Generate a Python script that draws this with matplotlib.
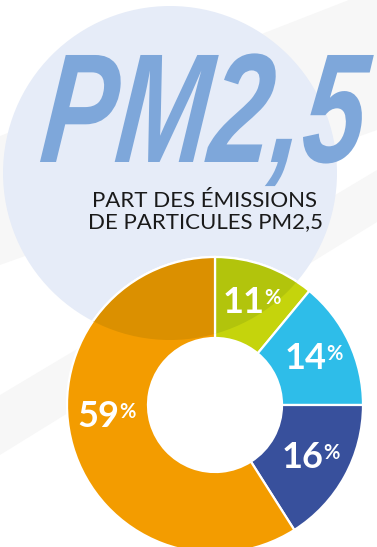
import numpy as np
import matplotlib
matplotlib.use("Agg")
import matplotlib.pyplot as plt
from matplotlib.patches import Circle, Polygon
from matplotlib.colors import to_rgb
from matplotlib.transforms import Affine2D
from matplotlib import patheffects

# share of PM2.5 emissions by sector, clockwise from the top
shares = [11, 14, 16, 59]
share_labels = ["11", "14", "16", "59"]
slice_colors = ["#C5D40C", "#2EBDE9", "#38509C", "#F39C00"]

title = "PM2,5"
subtitle = ["PART DES ÉMISSIONS", "DE PARTICULES PM2,5"]

W, H = 377, 547
disc_color = "#E6ECF8"


def multiply(c, over):
    a, b = to_rgb(c), to_rgb(over)
    return tuple(x * y for x, y in zip(a, b))


class Squeeze(patheffects.AbstractPathEffect):
    """Draw text narrower and more slanted than the font itself."""

    def __init__(self, sx=1.0, skew=0.0):
        super().__init__()
        self.sx = sx
        self.skew = skew

    def draw_path(self, renderer, gc, tpath, affine, rgbFace=None):
        t = Affine2D().skew_deg(self.skew, 0).scale(self.sx, 1) + affine
        renderer.draw_path(gc, tpath, t, rgbFace)


fig = plt.figure(figsize=(W / 100, H / 100), dpi=100)
ax = fig.add_axes([0, 0, 1, 1])

# faint diagonal bands in the background
bands = [
    [(0, H - 136), (W, H + 11), (W, H - 130), (0, H - 265)],
    [(0, H - 395), (W, H - 170), (W, H - 222), (0, H - 455)],
]
for b in bands:
    ax.add_patch(Polygon(b, closed=True, facecolor="#F7F7F7", edgecolor="none", zorder=0))

# big pale disc behind the heading
disc = Circle((170, H - 173), 167, facecolor=disc_color, edgecolor="none", zorder=1)
ax.add_patch(disc)

# donut
center = (215, H - 405)
r_out, r_in = 148, 67
wedge_kw = dict(width=r_out - r_in, edgecolor="white", linewidth=1.6)
wedges, _ = ax.pie(shares, colors=slice_colors, startangle=90, counterclock=False,
                   center=center, radius=r_out, wedgeprops=wedge_kw, frame=True)
for w in wedges:
    w.set_zorder(2)
ax.add_patch(Circle(center, r_in, facecolor="white", edgecolor="none", zorder=2))

# part of the donut lying under the disc is tinted (multiply look)
dark = [multiply(c, disc_color) for c in slice_colors]
dwedges, _ = ax.pie(shares, colors=dark, startangle=90, counterclock=False,
                    center=center, radius=r_out, wedgeprops=wedge_kw, frame=True)
for w in dwedges:
    w.set_zorder(3)
    w.set_clip_on(True)
    w.set_clip_path(disc)

# percentage labels
label_r = 109
lab_font = ["Lato", "DejaVu Sans"]
for w, lab in zip(wedges, share_labels):
    mid = (w.theta1 + w.theta2) / 2
    if w.theta2 - w.theta1 > 180:
        mid = 186
    x = center[0] + label_r * np.cos(np.radians(mid))
    y = center[1] + label_r * np.sin(np.radians(mid))
    num = ax.text(x - 8, y, lab, ha="center", va="center", color="white",
                  fontsize=26, fontweight="bold", family=lab_font, zorder=5)
    ax.annotate("%", xy=(1, 1), xycoords=num, xytext=(-0.5, -1.5), textcoords="offset points",
                ha="left", va="top", color="white", fontsize=14.5, fontweight="bold",
                family=lab_font, zorder=5)

# heading
ax.text(38, H - 162, title, ha="left", va="baseline", color="#7EA7DA",
        fontsize=112, fontweight="bold", fontstyle="italic",
        family=["Liberation Sans", "DejaVu Sans"], zorder=4,
        path_effects=[Squeeze(sx=0.72, skew=8)])
ax.text(205, H - 207, subtitle[0], ha="center", va="baseline", color="#1A1A1A",
        fontsize=16, fontweight="normal", family=lab_font, zorder=4)
ax.text(205, H - 228, subtitle[1], ha="center", va="baseline", color="#1A1A1A",
        fontsize=16, fontweight="normal", family=lab_font, zorder=4)

ax.set_xlim(0, W)
ax.set_ylim(0, H)
ax.set_aspect("equal")
ax.axis("off")

fig.savefig("out.png", dpi=100, facecolor="white")
